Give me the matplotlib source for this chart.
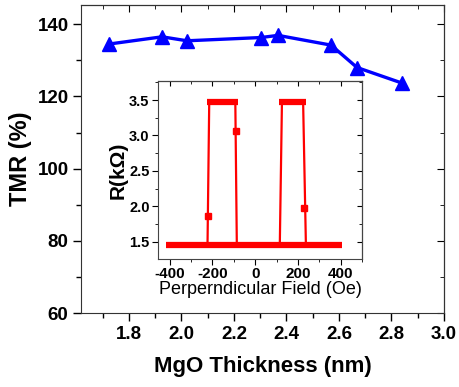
import matplotlib
matplotlib.use('Agg')
import matplotlib.pyplot as plt
from matplotlib.ticker import MultipleLocator

plt.rcParams['font.family'] = ['Liberation Sans', 'DejaVu Sans']
plt.rcParams['font.weight'] = 'bold'
plt.rcParams['axes.unicode_minus'] = False

# main panel: TMR vs MgO thickness
thickness = [1.724, 1.926, 2.021, 2.303, 2.368, 2.570, 2.669, 2.840]
tmr = [134.5, 136.5, 135.4, 136.3, 136.9, 134.2, 128.0, 123.7]

# inset: R-H loop
low_H = [-417, 408]
low_R = [1.46, 1.46]
high1_H = [-226, -79]
high2_H = [112, 237]
high_R = [3.47, 3.47]
# switching lines (field at low R, field at high R)
sw_low_H = [-223, -86, 115, 237]
sw_high_H = [-215, -93, 125, 224]
pts_H = [-220, -90, 229]
pts_R = [1.87, 3.07, 1.98]


def mirror_ticks(a, xmaj, xmin, ymaj, ymin, maj_len, min_len):
    top = a.secondary_xaxis('top')
    top.xaxis.set_major_locator(MultipleLocator(xmaj))
    top.xaxis.set_minor_locator(MultipleLocator(xmin))
    top.tick_params(which='both', direction='in', labeltop=False)
    top.tick_params(which='major', length=maj_len)
    top.tick_params(which='minor', length=min_len)
    rt = a.secondary_yaxis('right')
    rt.yaxis.set_major_locator(MultipleLocator(ymaj))
    rt.yaxis.set_minor_locator(MultipleLocator(ymin))
    rt.tick_params(which='both', direction='in', labelright=False)
    rt.tick_params(which='major', length=maj_len)
    rt.tick_params(which='minor', length=min_len)


fig = plt.figure(figsize=(4.59, 3.87), dpi=100)
ax = fig.add_axes([0.1765, 0.191, 0.7905, 0.796])
ax.plot(thickness, tmr, color='#0000ff', lw=2.4, marker='^', ms=9.5)
ax.set_xlim(1.617, 3.0)
ax.set_ylim(60, 145.3)
ax.xaxis.set_major_locator(MultipleLocator(0.2))
ax.xaxis.set_minor_locator(MultipleLocator(0.1))
ax.yaxis.set_major_locator(MultipleLocator(20))
ax.yaxis.set_minor_locator(MultipleLocator(10))
ax.tick_params(which='both', direction='out', labelsize=13.5, width=1, pad=3)
ax.tick_params(which='major', length=6)
ax.tick_params(which='minor', length=3.5)
ax.set_xticks([1.8, 2.0, 2.2, 2.4, 2.6, 2.8, 3.0])
ax.set_xticklabels(['1.8', '2.0', '2.2', '2.4', '2.6', '2.8', '3.0'])
ax.set_xlabel('MgO Thickness (nm)', fontsize=16, fontweight='bold', labelpad=10)
ax.set_ylabel('TMR (%)', fontsize=17, fontweight='bold', labelpad=4)
mirror_ticks(ax, 0.2, 0.1, 20, 10, 5, 3)
for s in ax.spines.values():
    s.set_color('#333333')

ins = fig.add_axes([0.344, 0.331, 0.445, 0.46])
ins.plot(low_H, low_R, color='#ff0000', lw=4.5, solid_capstyle='butt')
ins.plot(high1_H, high_R, color='#ff0000', lw=4.5, solid_capstyle='butt')
ins.plot(high2_H, high_R, color='#ff0000', lw=4.5, solid_capstyle='butt')
for hl, hh in zip(sw_low_H, sw_high_H):
    ins.plot([hl, hh], [low_R[0], high_R[0]], color='#ff0000', lw=1.6)
ins.plot(pts_H, pts_R, ls='none', marker='s', ms=5, color='#ff0000')
ins.set_xlim(-455, 500)
ins.set_ylim(1.26, 3.77)
ins.xaxis.set_major_locator(MultipleLocator(200))
ins.xaxis.set_minor_locator(MultipleLocator(100))
ins.yaxis.set_major_locator(MultipleLocator(0.5))
ins.yaxis.set_minor_locator(MultipleLocator(0.25))
ins.tick_params(which='both', direction='out', pad=2)
ins.tick_params(axis='x', labelsize=11)
ins.tick_params(axis='y', labelsize=10.5)
ins.tick_params(which='major', length=4)
ins.tick_params(which='minor', length=2.5)
ins.set_xlabel('Perperndicular Field (Oe)', fontsize=13, fontweight='normal', labelpad=0)
ins.set_ylabel('R(k\u03a9)', fontsize=15, fontweight='bold', labelpad=1)
mirror_ticks(ins, 200, 100, 0.5, 0.25, 3.5, 2.5)
for s in ins.spines.values():
    s.set_color('#444444')

fig.savefig('out.png', dpi=100)
